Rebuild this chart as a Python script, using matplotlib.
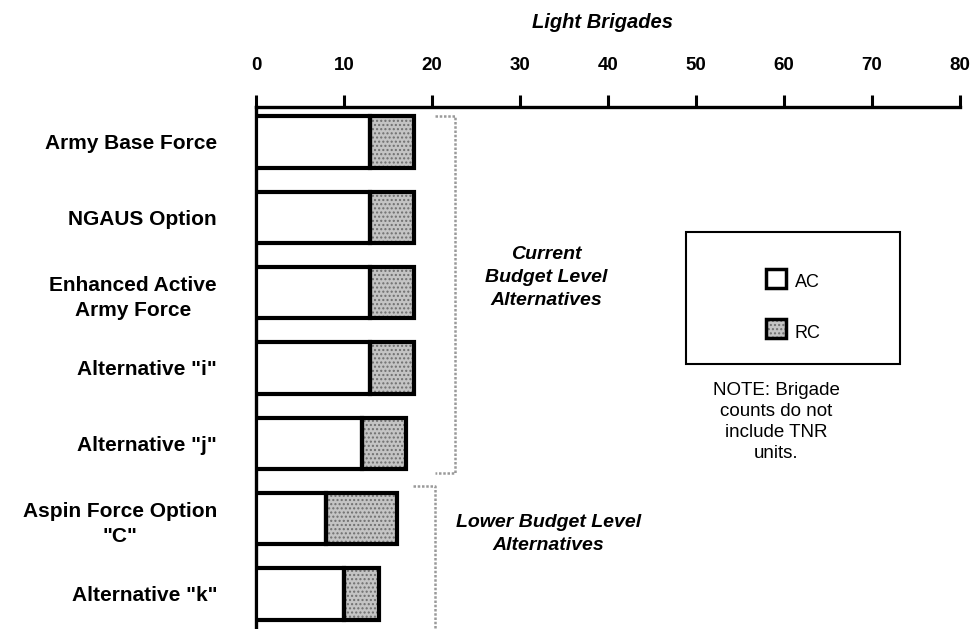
import matplotlib
matplotlib.use("Agg")
import matplotlib.pyplot as plt
from matplotlib.patches import Rectangle

plt.rcParams['font.family'] = ['Liberation Sans', 'DejaVu Sans']

# Light brigades per force alternative (active and reserve components)
alternatives = ['Army Base Force', 'NGAUS Option', 'Enhanced Active\nArmy Force',
                'Alternative "i"', 'Alternative "j"', 'Aspin Force Option\n"C"',
                'Alternative "k"']
ac_brigades = [13, 13, 13, 13, 12, 8, 10]
rc_brigades = [5, 5, 5, 5, 5, 8, 4]
x_ticks = [0, 10, 20, 30, 40, 50, 60, 70, 80]

fig = plt.figure(figsize=(9.74, 6.29), dpi=100)
ax = fig.add_axes([0.2628, 0.0, 0.7228, 0.830])

ypos = list(range(len(alternatives)))
bar_h = 0.68

# AC part: open bar with heavy outline
ax.barh(ypos, ac_brigades, height=bar_h, color='white', edgecolor='black',
        linewidth=3, zorder=3)
# RC part: stippled grey fill, then outline on top
ax.barh(ypos, rc_brigades, left=ac_brigades, height=bar_h, color='#c4c4c4',
        edgecolor='#6f6f6f', linewidth=0, hatch='....', zorder=2)
ax.barh(ypos, rc_brigades, left=ac_brigades, height=bar_h, fill=False,
        edgecolor='black', linewidth=3, zorder=3)

ax.set_xlim(0, 80)
ax.set_ylim(len(alternatives) - 0.535, -0.465)
ax.xaxis.tick_top()
ax.set_xticks(x_ticks)
ax.tick_params(axis='x', direction='out', length=9, width=2.2, pad=15,
               labelsize=13.5)
for lbl in ax.get_xticklabels():
    lbl.set_fontweight('bold')

ax.set_yticks(ypos)
ax.set_yticklabels(alternatives, fontsize=15, fontweight='bold')
ax.tick_params(axis='y', length=0, pad=28)
for lbl in ax.get_yticklabels():
    lbl.set_multialignment('center')
    lbl.set_linespacing(1.45)

for side in ['right', 'bottom']:
    ax.spines[side].set_visible(False)
ax.spines['top'].set_linewidth(2.4)
ax.spines['left'].set_linewidth(2.4)

# Budget level brackets
bk = dict(color='#9a9a9a', linewidth=1.8, linestyle=(0, (1, 0.7)), clip_on=False)
ax.plot([20.3, 22.6, 22.6, 20.3], [-0.34, -0.34, 4.4, 4.4], **bk)
ax.plot([17.8, 20.3, 20.3, 17.8], [4.57, 4.57, 6.5, 6.5], **bk)

ax.text(33.0, 1.8, 'Current\nBudget Level\nAlternatives', ha='center',
        va='center', fontsize=14, fontweight='bold', fontstyle='italic',
        linespacing=1.45)
ax.text(33.2, 5.2, 'Lower Budget Level\nAlternatives', ha='center',
        va='center', fontsize=14, fontweight='bold', fontstyle='italic',
        linespacing=1.45)

fig.text(602 / 974, 1 - 22 / 629, 'Light Brigades', ha='center', va='center',
         fontsize=14.5, fontweight='bold', fontstyle='italic')

# Legend box
fig.patches.append(Rectangle((686 / 974, 1 - 364 / 629), 214 / 974, 132 / 629,
                             transform=fig.transFigure, fill=False,
                             edgecolor='black', linewidth=1.5))
fig.patches.append(Rectangle((766 / 974, 1 - 288 / 629), 20 / 974, 19 / 629,
                             transform=fig.transFigure, facecolor='white',
                             edgecolor='black', linewidth=2.5))
fig.patches.append(Rectangle((766 / 974, 1 - 338 / 629), 20 / 974, 19 / 629,
                             transform=fig.transFigure, facecolor='#c4c4c4',
                             edgecolor='#6f6f6f', linewidth=0, hatch='....'))
fig.patches.append(Rectangle((766 / 974, 1 - 338 / 629), 20 / 974, 19 / 629,
                             transform=fig.transFigure, fill=False,
                             edgecolor='black', linewidth=2.5))
fig.text(795 / 974, 1 - 282 / 629, 'AC', ha='left', va='center', fontsize=13)
fig.text(795 / 974, 1 - 334 / 629, 'RC', ha='left', va='center', fontsize=13)

fig.text(776 / 974, 1 - 422 / 629,
         'NOTE: Brigade\ncounts do not\ninclude TNR\nunits.',
         ha='center', va='center', fontsize=13.5, linespacing=1.3)

fig.savefig('out.png', dpi=100)
